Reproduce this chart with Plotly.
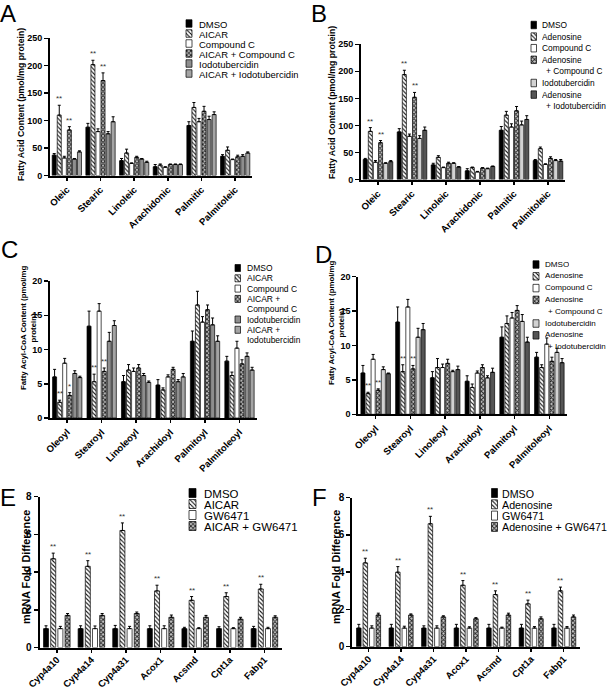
import plotly.graph_objects as go

W, H = 608, 689
FONT = "Liberation Sans, Arial, sans-serif"

# ---------------- data ----------------
fa_cats = ["Oleic", "Stearic", "Linoleic", "Arachidonic", "Palmitic", "Palmitoleic"]
acyl_cats = ["Oleoyl", "Stearoyl", "Linoleoyl", "Arachidoyl", "Palmitoyl", "Palmitoleoyl"]
genes = ["Cyp4a10", "Cyp4a14", "Cyp4a31", "Acox1", "Acsmd", "Cpt1a", "Fabp1"]

# Panel A: fatty acids, AICAR
a_dmso = [37, 88, 27, 16, 91, 35]
a_dmso_err = [3, 7, 4, 4, 7, 3]
a_aicar = [110, 202, 41, 19, 124, 46]
a_aicar_err = [18, 8, 7, 2, 9, 6]
a_cc = [32, 80, 22, 15, 98, 29]
a_cc_err = [3, 5, 1, 1, 6, 1]
a_aicar_cc = [83, 173, 33, 20, 117, 34]
a_aicar_cc_err = [6, 14, 2, 1, 9, 3]
a_iodo = [30, 76, 30, 20, 102, 35]
a_iodo_err = [1, 4, 1, 1, 6, 3]
a_aicar_iodo = [43, 98, 24, 20, 111, 41]
a_aicar_iodo_err = [2, 9, 2, 1, 5, 2]
a_sig_aicar = ["**", "**", "", "", "", ""]
a_sig_aicar_cc = ["**", "**", "", "", "", ""]

# Panel B: fatty acids, adenosine
b_dmso = [37, 88, 27, 16, 91, 35]
b_dmso_err = [2, 6, 3, 4, 7, 2]
b_ado = [89, 194, 41, 22, 119, 57]
b_ado_err = [7, 8, 3, 1, 7, 3]
b_cc = [32, 80, 22, 14, 97, 28]
b_cc_err = [3, 4, 1, 1, 6, 1]
b_ado_cc = [68, 152, 30, 21, 127, 39]
b_ado_cc_err = [4, 9, 2, 1, 8, 3]
b_iodo = [30, 76, 30, 20, 101, 35]
b_iodo_err = [1, 5, 1, 1, 7, 2]
b_ado_iodo = [33, 91, 23, 24, 111, 34]
b_ado_iodo_err = [2, 6, 1, 1, 7, 3]
b_sig_ado = ["**", "**", "", "", "", ""]
b_sig_ado_cc = ["**", "**", "", "", "", ""]

# Panel C: fatty acyl-CoA, AICAR
c_dmso = [6.0, 13.4, 5.3, 4.8, 11.2, 8.3]
c_dmso_err = [1.1, 2.2, 0.9, 0.8, 1.5, 0.7]
c_aicar = [2.3, 5.3, 7.0, 4.1, 16.5, 6.2]
c_aicar_err = [0.3, 1.1, 0.8, 0.3, 2.0, 0.5]
c_cc = [8.0, 15.6, 6.8, 6.0, 14.0, 10.2]
c_cc_err = [0.7, 1.1, 0.5, 0.3, 0.8, 1.0]
c_aicar_cc = [3.3, 6.8, 7.3, 7.1, 15.8, 7.9]
c_aicar_cc_err = [0.4, 0.5, 0.5, 0.3, 0.7, 0.6]
c_iodo = [6.5, 11.2, 6.2, 5.3, 13.6, 9.0]
c_iodo_err = [0.4, 1.3, 0.3, 0.3, 1.0, 0.5]
c_aicar_iodo = [5.9, 13.5, 5.2, 6.0, 11.2, 7.0]
c_aicar_iodo_err = [0.2, 0.7, 0.2, 0.5, 0.8, 0.4]
c_sig_aicar = ["**", "**", "", "", "", ""]
c_sig_aicar_cc = ["*", "**", "", "", "", ""]

# Panel D: fatty acyl-CoA, adenosine
d_dmso = [6.0, 13.4, 5.3, 4.8, 11.2, 8.3]
d_dmso_err = [1.1, 2.2, 0.9, 0.8, 1.5, 0.7]
d_ado = [3.0, 6.2, 6.8, 3.9, 13.2, 6.8]
d_ado_err = [0.2, 1.0, 1.3, 0.5, 1.1, 0.4]
d_cc = [8.0, 15.6, 6.8, 6.0, 14.0, 10.2]
d_cc_err = [0.7, 1.1, 0.5, 0.3, 0.8, 0.9]
d_ado_cc = [3.5, 6.6, 7.4, 6.8, 15.1, 7.7]
d_ado_cc_err = [0.2, 0.5, 0.6, 0.4, 0.7, 0.6]
d_iodo = [6.5, 11.2, 6.2, 5.3, 13.5, 9.0]
d_iodo_err = [0.4, 1.3, 0.2, 0.3, 1.0, 0.6]
d_ado_iodo = [5.9, 12.3, 6.5, 6.1, 10.5, 7.5]
d_ado_iodo_err = [0.1, 0.9, 0.5, 0.6, 0.7, 0.6]
d_sig_ado = ["**", "**", "", "", "", ""]
d_sig_ado_cc = ["**", "**", "", "", "", ""]

# Panel E: mRNA, AICAR
e_dmso = [1.0, 1.0, 1.0, 1.0, 1.0, 1.0, 1.0]
e_dmso_err = [0.15, 0.15, 0.17, 0.15, 0.07, 0.1, 0.12]
e_aicar = [4.7, 4.3, 6.2, 3.0, 2.5, 2.7, 3.1]
e_aicar_err = [0.3, 0.3, 0.4, 0.3, 0.2, 0.2, 0.25]
e_gw = [1.0, 1.0, 1.0, 1.0, 1.0, 1.0, 1.0]
e_gw_err = [0.12, 0.14, 0.12, 0.15, 0.05, 0.05, 0.07]
e_aicar_gw = [1.7, 1.7, 1.8, 1.6, 1.6, 1.5, 1.6]
e_aicar_gw_err = [0.1, 0.1, 0.08, 0.12, 0.1, 0.1, 0.08]
e_sig_aicar = ["**", "**", "**", "**", "**", "**", "**"]

# Panel F: mRNA, adenosine
f_dmso = [1.0, 1.0, 1.0, 1.0, 1.0, 1.0, 1.0]
f_dmso_err = [0.2, 0.2, 0.12, 0.2, 0.2, 0.2, 0.2]
f_ado = [4.5, 4.0, 6.6, 3.3, 2.8, 2.3, 3.0]
f_ado_err = [0.25, 0.3, 0.4, 0.25, 0.2, 0.2, 0.2]
f_gw = [1.0, 1.0, 1.0, 1.0, 1.0, 1.0, 1.0]
f_gw_err = [0.12, 0.1, 0.12, 0.07, 0.05, 0.08, 0.08]
f_ado_gw = [1.7, 1.7, 1.6, 1.5, 1.7, 1.5, 1.6]
f_ado_gw_err = [0.1, 0.06, 0.06, 0.06, 0.1, 0.1, 0.1]
f_sig_ado = ["**", "**", "**", "**", "**", "**", "**"]

# ---------------- styles ----------------
STY = {
    "black": dict(color="black"),
    "hatch": dict(color="white", pattern=dict(shape="\\", fgcolor="#111111", bgcolor="white", size=3, solidity=0.35)),
    "white": dict(color="white"),
    "check": dict(color="#b0b0b0", pattern=dict(shape="x", fgcolor="#222222", bgcolor="#c8c8c8", size=3, solidity=0.5)),
    "grey_a": dict(color="#8e8e8e"),
    "grey_b": dict(color="#a4a4a4"),
    "grey_light": dict(color="#d2d2d2"),
    "grey_dark": dict(color="#555555"),
}

nos = ["", "", "", "", "", ""]
nos7 = ["", "", "", "", "", "", ""]

panels = [
    dict(letter="A", cats=fa_cats, ymax=250, dtick=50,
         px=(50, 252, 38.3, 175.5), gw=0.9, gg=0.2,
         ytitle=["Fatty Acid Content (pmol/mg protein)"], ytitle_xy=(21, 105), ytitle_fs=8.7,
         tickfs=9, xtickfs=9.5, xstand=0, letter_xy=(8, 13),
         series=[("DMSO", a_dmso, a_dmso_err, nos, "black"),
                 ("AICAR", a_aicar, a_aicar_err, a_sig_aicar, "hatch"),
                 ("Compound C", a_cc, a_cc_err, nos, "white"),
                 ("AICAR + Compound C", a_aicar_cc, a_aicar_cc_err, a_sig_aicar_cc, "check"),
                 ("Iodotubercidin", a_iodo, a_iodo_err, nos, "grey_a"),
                 ("AICAR + Iodotubercidin", a_aicar_iodo, a_aicar_iodo_err, nos, "grey_b")],
         legend=dict(x=186, w=6, h=7.5, tx=196.5, y0=23.5, dy=10, fs=9.5, indent=0,
                     items=[("black", ["DMSO"]), ("hatch", ["AICAR"]), ("white", ["Compound C"]),
                            ("check", ["AICAR + Compound C"]), ("grey_a", ["Iodotubercidin"]),
                            ("grey_b", ["AICAR + Iodotubercidin"])])),
    dict(letter="B", cats=fa_cats, ymax=250, dtick=50,
         px=(361, 565, 44.3, 179.5), gw=0.9, gg=0.2,
         ytitle=["Fatty Acid Content (pmol/mg protein)"], ytitle_xy=(332, 103), ytitle_fs=8.7,
         tickfs=9, xtickfs=9.5, xstand=0, letter_xy=(319, 13),
         series=[("DMSO", b_dmso, b_dmso_err, nos, "black"),
                 ("Adenosine", b_ado, b_ado_err, b_sig_ado, "hatch"),
                 ("Compound C", b_cc, b_cc_err, nos, "white"),
                 ("Adenosine + Compound C", b_ado_cc, b_ado_cc_err, b_sig_ado_cc, "check"),
                 ("Iodotubercidin", b_iodo, b_iodo_err, nos, "grey_light"),
                 ("Adenosine + Iodotubercidin", b_ado_iodo, b_ado_iodo_err, nos, "grey_dark")],
         legend=dict(x=531, w=5.5, h=7.5, tx=540, y0=25, dy=11.6, fs=8.4, indent=3.5,
                     items=[("black", ["DMSO"]), ("hatch", ["Adenosine"]), ("white", ["Compound C"]),
                            ("check", ["Adenosine", "+ Compound C"]), ("grey_light", ["Iodotubercidin"]),
                            ("grey_dark", ["Adenosine", "+ Iodotubercidin"])])),
    dict(letter="C", cats=acyl_cats, ymax=20, dtick=5,
         px=(50, 256.7, 281, 418), gw=0.88, gg=0.2,
         ytitle=["Fatty Acyl-CoA Content (pmol/mg", "protein)"], ytitle_xy=(28, 328), ytitle_fs=7.8,
         tickfs=9, xtickfs=9.5, xstand=0, letter_xy=(9, 249),
         series=[("DMSO", c_dmso, c_dmso_err, nos, "black"),
                 ("AICAR", c_aicar, c_aicar_err, c_sig_aicar, "hatch"),
                 ("Compound C", c_cc, c_cc_err, nos, "white"),
                 ("AICAR + Compound C", c_aicar_cc, c_aicar_cc_err, c_sig_aicar_cc, "check"),
                 ("Iodotubercidin", c_iodo, c_iodo_err, nos, "grey_a"),
                 ("AICAR + Iodotubercidin", c_aicar_iodo, c_aicar_iodo_err, nos, "grey_b")],
         legend=dict(x=235, w=5.5, h=7, tx=245, y0=268, dy=10.3, fs=8.5, indent=0,
                     items=[("black", ["DMSO"]), ("hatch", ["AICAR"]), ("white", ["Compound C"]),
                            ("check", ["AICAR +", "Compound C"]), ("grey_a", ["Iodotubercidin"]),
                            ("grey_b", ["AICAR +", "Iodotubercidin"])])),
    dict(letter="D", cats=acyl_cats, ymax=20, dtick=5,
         px=(358.3, 566.7, 276.7, 414.3), gw=0.88, gg=0.2,
         ytitle=["Fatty Acyl-CoA Content (pmol/mg", "protein)"], ytitle_xy=(336, 323), ytitle_fs=7.8,
         tickfs=9, xtickfs=9.5, xstand=0, letter_xy=(323, 254),
         series=[("DMSO", d_dmso, d_dmso_err, nos, "black"),
                 ("Adenosine", d_ado, d_ado_err, d_sig_ado, "hatch"),
                 ("Compound C", d_cc, d_cc_err, nos, "white"),
                 ("Adenosine + Compound C", d_ado_cc, d_ado_cc_err, d_sig_ado_cc, "check"),
                 ("Iodotubercidin", d_iodo, d_iodo_err, nos, "grey_light"),
                 ("Adenosine + Iodotubercidin", d_ado_iodo, d_ado_iodo_err, nos, "grey_dark")],
         legend=dict(x=533, w=6, h=7.5, tx=542.5, y0=264.5, dy=11.8, fs=8.1, indent=3,
                     items=[("black", ["DMSO"]), ("hatch", ["Adenosine"]), ("white", ["Compound C"]),
                            ("check", ["Adenosine", "+ Compound C"]), ("grey_light", ["Iodotubercidin"]),
                            ("grey_dark", ["Adenosine", "+ Iodotubercidin"])])),
    dict(letter="E", cats=genes, ymax=8, dtick=2,
         px=(39.5, 281.7, 496.5, 647.5), gw=0.83, gg=0.3,
         ytitle=["mRNA Fold Difference"], ytitle_xy=(26, 567), ytitle_fs=10.8,
         tickfs=10, xtickfs=9.5, xstand=-2, letter_xy=(8, 497.5),
         series=[("DMSO", e_dmso, e_dmso_err, nos7, "black"),
                 ("AICAR", e_aicar, e_aicar_err, e_sig_aicar, "hatch"),
                 ("GW6471", e_gw, e_gw_err, nos7, "white"),
                 ("AICAR + GW6471", e_aicar_gw, e_aicar_gw_err, nos7, "check")],
         legend=dict(x=189, w=7, h=9, tx=201.5, y0=493, dy=11, fs=11.5, indent=0,
                     items=[("black", ["DMSO"]), ("hatch", ["AICAR"]), ("white", ["GW6471"]),
                            ("check", ["AICAR + GW6471"])])),
    dict(letter="F", cats=genes, ymax=8, dtick=2,
         px=(352.3, 580, 497.7, 646.7), gw=0.8, gg=0.3,
         ytitle=["mRNA Fold Difference"], ytitle_xy=(336, 567), ytitle_fs=10.8,
         tickfs=10, xtickfs=9.5, xstand=-2, letter_xy=(319, 497.5),
         series=[("DMSO", f_dmso, f_dmso_err, nos7, "black"),
                 ("Adenosine", f_ado, f_ado_err, f_sig_ado, "hatch"),
                 ("GW6471", f_gw, f_gw_err, nos7, "white"),
                 ("Adenosine + GW6471", f_ado_gw, f_ado_gw_err, nos7, "check")],
         legend=dict(x=491.5, w=6, h=9, tx=499.5, y0=493, dy=11.3, fs=10.7, indent=0,
                     items=[("black", ["DMSO"]), ("hatch", ["Adenosine"]), ("white", ["GW6471"]),
                            ("check", ["Adenosine + GW6471"])])),
]

fig = go.Figure()
annotations = []
layout_axes = {}

for k, p in enumerate(panels, start=1):
    xs = "" if k == 1 else str(k)
    x0, x1, ytop, ybot = p["px"]
    n_ser = len(p["series"])
    ncat = len(p["cats"])
    slot = p["gw"] / n_ser
    bw = slot * (1 - p["gg"])
    for i, (name, vals, errs, sig, sty) in enumerate(p["series"]):
        off = -p["gw"] / 2 + i * slot + slot * p["gg"] / 2
        st = STY[sty]
        marker = dict(color=st["color"], line=dict(color="black", width=0.7))
        if "pattern" in st:
            marker["pattern"] = st["pattern"]
        fig.add_trace(go.Bar(
            x=list(range(ncat)), y=vals, name=name, width=bw, offset=off,
            marker=marker, showlegend=False,
            error_y=dict(type="data", array=errs, arrayminus=[0] * ncat, symmetric=False,
                         color="black", thickness=1, width=1.5),
            xaxis="x" + xs, yaxis="y" + xs))
        for j, s in enumerate(sig):
            if s:
                annotations.append(dict(
                    x=j + off + bw / 2, y=vals[j] + errs[j], xref="x" + xs, yref="y" + xs,
                    text=s, showarrow=False, yanchor="bottom", yshift=0,
                    font=dict(family=FONT, size=8, color="#333")))
    layout_axes["xaxis" + xs] = dict(
        domain=[x0 / W, x1 / W], anchor="y" + xs, range=[-0.5, ncat - 0.5],
        tickmode="array", tickvals=list(range(ncat)), ticktext=p["cats"],
        showline=True, linecolor="black", linewidth=2, ticks="outside", ticklen=3,
        tickwidth=1.5, tickcolor="black", tickangle=-45, showgrid=False, zeroline=False,
        automargin=False, ticklabelstandoff=p["xstand"],
        tickfont=dict(family=FONT, size=p["xtickfs"], color="black", weight="bold"),
        fixedrange=True)
    layout_axes["yaxis" + xs] = dict(
        domain=[1 - ybot / H, 1 - ytop / H], anchor="x" + xs, range=[0, p["ymax"]],
        dtick=p["dtick"], tick0=0, showline=True, linecolor="black", linewidth=2,
        ticks="outside", ticklen=4, tickwidth=1.5, tickcolor="black",
        showgrid=False, zeroline=False, automargin=False,
        tickfont=dict(family=FONT, size=p["tickfs"], color="black", weight="bold"),
        fixedrange=True)

    # y title
    tx, ty = p["ytitle_xy"]
    annotations.append(dict(
        x=tx, y=ty, xref="x7", yref="y7", text="<br>".join(p["ytitle"]), textangle=-90,
        showarrow=False, xanchor="center", yanchor="middle", align="center",
        font=dict(family=FONT, size=p["ytitle_fs"], color="black", weight="bold")))
    # panel letter
    lx, ly = p["letter_xy"]
    annotations.append(dict(
        x=lx, y=ly, xref="x7", yref="y7", text=p["letter"], showarrow=False,
        xanchor="center", yanchor="middle", font=dict(family=FONT, size=24, color="black")))

    # manual legend
    lg = p["legend"]
    line_idx = 0
    for sty, lines in lg["items"]:
        yc = lg["y0"] + line_idx * lg["dy"]
        st = STY[sty]
        sx0, sx1 = lg["x"], lg["x"] + lg["w"]
        sy0, sy1 = yc - lg["h"] / 2, yc + lg["h"] / 2
        tr = dict(x=[sx0, sx1, sx1, sx0, sx0], y=[sy0, sy0, sy1, sy1, sy0], mode="lines",
                  fill="toself", fillcolor=st["color"], line=dict(color="black", width=0.7),
                  xaxis="x7", yaxis="y7", showlegend=False, hoverinfo="skip")
        if "pattern" in st:
            tr["fillpattern"] = st["pattern"]
        fig.add_trace(go.Scatter(**tr))
        for li, txt in enumerate(lines):
            annotations.append(dict(
                x=lg["tx"] + (lg["indent"] if li > 0 else 0), y=yc + li * lg["dy"],
                xref="x7", yref="y7", text=txt, showarrow=False,
                xanchor="left", yanchor="middle", height=lg["dy"], valign="middle",
                font=dict(family=FONT, size=lg["fs"], color="black")))
        line_idx += len(lines)

layout_axes["xaxis7"] = dict(domain=[0, 1], range=[0, W], visible=False, fixedrange=True,
                             automargin=False)
layout_axes["yaxis7"] = dict(domain=[0, 1], range=[H, 0], visible=False, fixedrange=True,
                             automargin=False)

fig.update_layout(
    template="none",
    width=W, height=H, margin=dict(l=0, r=0, t=0, b=0, pad=0, autoexpand=False),
    paper_bgcolor="white", plot_bgcolor="rgba(0,0,0,0)",
    barmode="overlay", showlegend=False, hovermode=False,
    font=dict(family=FONT, color="black"),
    annotations=annotations, **layout_axes)

fig.write_html("out.html", config={"displayModeBar": False, "staticPlot": True},
               post_script="document.body.style.margin='0';")
